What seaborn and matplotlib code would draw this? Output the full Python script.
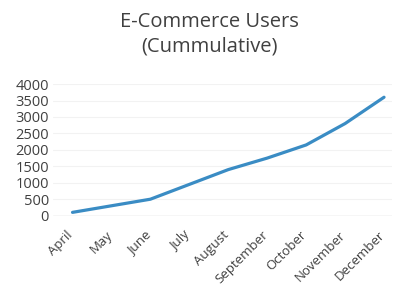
import seaborn as sns
import pandas as pd
import matplotlib.pyplot as plt
from matplotlib.transforms import ScaledTranslation

# Chart values
months = ['April', 'May', 'June', 'July', 'August', 'September',
          'October', 'November', 'December']
users = [100, 300, 500, 950, 1400, 1750, 2150, 2800, 3600]

df = pd.DataFrame({'Month': months, 'Users': users})

sns.set_style('white')
plt.rcParams['font.family'] = ['Open Sans', 'DejaVu Sans']

fig = plt.figure(figsize=(3.93, 2.86), dpi=100)
ax = fig.add_axes([0.135, 0.246, 0.862, 0.46])

sns.lineplot(data=df, x='Month', y='Users', sort=False, ax=ax,
             color='#3a8cc4', linewidth=2.3)

ax.set_xlim(-0.5, 8.2)
ax.set_ylim(0, 4000)
ax.set_yticks(range(0, 4001, 500))
ax.yaxis.grid(True, color='#f2f2f2', linewidth=0.8)
ax.axhline(0, color='#d9d9d9', linewidth=1, zorder=0)
for s in ax.spines.values():
    s.set_visible(False)

ax.set_xlabel('')
ax.set_ylabel('')
ax.tick_params(axis='y', length=0, labelsize=10.5, colors='#404040', pad=3)
ax.tick_params(axis='x', length=0, labelsize=9.5, colors='#404040', pad=9)
# shift the rotated month labels so they end right under each point
shift = ScaledTranslation(-0.06, 0, fig.dpi_scale_trans)
for lbl in ax.get_xticklabels():
    lbl.set_rotation(45)
    lbl.set_ha('right')
    lbl.set_rotation_mode('anchor')
    lbl.set_transform(lbl.get_transform() + shift)

fig.text(0.534, 0.879, 'E-Commerce Users\n(Cummulative)', ha='center', va='center',
         fontsize=14.5, color='#404040', linespacing=1.3)

fig.savefig('out.png', dpi=100)
